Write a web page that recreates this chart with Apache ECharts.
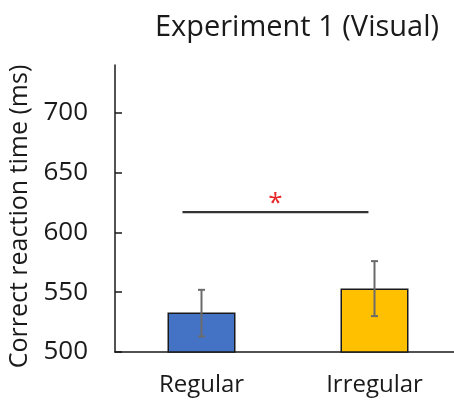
<!DOCTYPE html>
<html><head><meta charset="utf-8">
<script src="https://cdn.jsdelivr.net/npm/echarts@6/dist/echarts.min.js"></script>
<style>html,body{margin:0;padding:0;background:#fff}#c{width:454px;height:403px}</style>
</head><body><div id="c"></div>
<script>
const categories = ['Regular', 'Irregular'];
const means = [533, 553];
const errLow = [513, 530];
const errHigh = [552, 576];
const sigLevel = 617;
const sigLabel = '*';
const yTicks = [500, 550, 600, 650, 700];
const barColors = ['#4472C4', '#FFC000'];

const FONT = 'Open Sans';
const chart = echarts.init(document.getElementById('c'));
chart.setOption({
  animation: false,
  title: {text: 'Experiment 1 (Visual)', left: 292, textAlign: 'center', top: 8,
    textStyle: {fontFamily: FONT, fontSize: 29, fontWeight: 'normal', color: '#1a1a1a'}},
  grid: {left: 115, top: 65, width: 346, height: 287, outerBoundsMode: 'none', containLabel: false},
  xAxis: {type: 'category', data: categories,
    axisLine: {lineStyle: {color: '#1a1a1a', width: 1.5}}, axisTick: {show: false},
    axisLabel: {fontFamily: FONT, fontSize: 24, color: '#1a1a1a', margin: 21}},
  yAxis: {type: 'value', min: 500, max: 740, interval: 50,
    name: 'Correct reaction time (ms)', nameLocation: 'middle', nameGap: 77, nameRotate: 90,
    nameTextStyle: {fontFamily: FONT, fontSize: 25, color: '#1a1a1a', padding: [0, 16, 0, 0]},
    splitLine: {show: false},
    axisLine: {show: true, lineStyle: {color: '#1a1a1a', width: 1.5}},
    axisTick: {show: true, inside: true, length: 7, customValues: yTicks, lineStyle: {color: '#1a1a1a', width: 1.5}},
    axisLabel: {fontFamily: FONT, fontSize: 26, color: '#1a1a1a', margin: 27, customValues: yTicks}},
  series: [
    {type: 'bar', barWidth: 68,
      data: means.map((v, i) => ({value: v, itemStyle: {color: barColors[i]}})),
      itemStyle: {borderColor: '#1a1a1a', borderWidth: 1.5}},
    {type: 'custom', data: categories.map((c, i) => [i, errLow[i], errHigh[i]]),
      renderItem: function (params, api) {
        const lo = api.coord([api.value(0), api.value(1)]);
        const hi = api.coord([api.value(0), api.value(2)]);
        const w = 3.5;
        const st = {stroke: '#6b6b6b', lineWidth: 2};
        return {type: 'group', children: [
          {type: 'line', shape: {x1: lo[0], y1: lo[1], x2: hi[0], y2: hi[1]}, style: st},
          {type: 'line', shape: {x1: lo[0]-w, y1: lo[1], x2: lo[0]+w, y2: lo[1]}, style: st},
          {type: 'line', shape: {x1: hi[0]-w, y1: hi[1], x2: hi[0]+w, y2: hi[1]}, style: st}
        ]};
      }, z: 5},
    {type: 'custom', data: [[0, 1, sigLevel]],
      renderItem: function (params, api) {
        const a = api.coord([api.value(0), api.value(2)]);
        const b = api.coord([api.value(1), api.value(2)]);
        const band = api.size([1, 0])[0];
        const x1 = a[0] - 0.11 * band, x2 = b[0] - 0.035 * band;
        return {type: 'group', children: [
          {type: 'line', shape: {x1: x1, y1: a[1], x2: x2, y2: a[1]}, style: {stroke: '#333', lineWidth: 2.2}},
          {type: 'text', x: (x1 + x2) / 2, y: a[1] - 8, style: {text: sigLabel, fill: '#e8262a', fontSize: 26, fontFamily: FONT, align: 'center', verticalAlign: 'middle'}}
        ]};
      }}
  ]
});
</script></body></html>
